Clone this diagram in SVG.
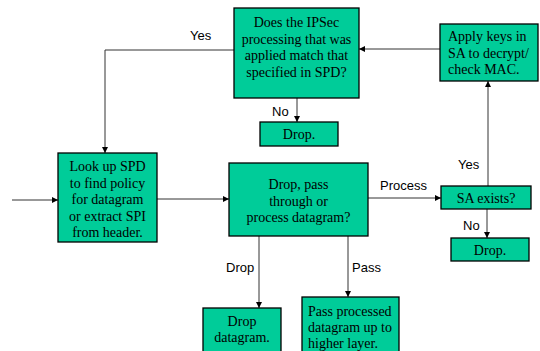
<svg xmlns="http://www.w3.org/2000/svg" width="540" height="351" viewBox="0 0 540 351">
<style>
.box{fill:#00CC99;stroke:#000;stroke-width:1.3}
.t{font-family:"Liberation Serif",serif;font-size:14px;fill:#000}
.c{text-anchor:middle}
.l{font-family:"Liberation Sans",sans-serif;font-size:13px;fill:#000}
.ln{fill:none;stroke:#333;stroke-width:1}
</style>
<defs>
<marker id="a" viewBox="0 0 8 8" refX="8" refY="4" markerWidth="6" markerHeight="6" orient="auto" markerUnits="userSpaceOnUse">
<path d="M0,0 L8,4 L0,8 z" fill="#000"/>
</marker>
</defs>
<rect width="540" height="351" fill="#fff"/>
<g id="connectors">
<path class="ln" d="M234,50 H105 V153" marker-end="url(#a)"/>
<path class="ln" d="M440,49 H359" marker-end="url(#a)"/>
<path class="ln" d="M297,98 V122" marker-end="url(#a)"/>
<path class="ln" d="M12,200 H58" marker-end="url(#a)"/>
<path class="ln" d="M157,199 H229" marker-end="url(#a)"/>
<path class="ln" d="M368,198 H441" marker-end="url(#a)"/>
<path class="ln" d="M488,186 V81" marker-end="url(#a)"/>
<path class="ln" d="M487,209 V238" marker-end="url(#a)"/>
<path class="ln" d="M259,236 V308" marker-end="url(#a)"/>
<path class="ln" d="M348,236 V297" marker-end="url(#a)"/>
<text class="l" x="190" y="40">Yes</text>
<text class="l" x="272" y="116">No</text>
<text class="l" x="380" y="190">Process</text>
<text class="l" x="458" y="169">Yes</text>
<text class="l" x="463" y="230">No</text>
<text class="l" x="226" y="272">Drop</text>
<text class="l" x="352" y="272">Pass</text>
</g>
<g id="ipsec-match">
<rect class="box" x="234" y="8" width="125" height="90"/>
<text class="t c" x="296.5" y="27">Does the IPSec</text>
<text class="t c" x="296.5" y="43.5">processing that was</text>
<text class="t c" x="296.5" y="60">applied match that</text>
<text class="t c" x="296.5" y="76.5">specified in SPD?</text>
</g>
<g id="apply-keys">
<rect class="box" x="440" y="24" width="98" height="57"/>
<text class="t" x="448" y="41">Apply keys in</text>
<text class="t" x="448" y="57.5">SA to decrypt/</text>
<text class="t" x="448" y="74">check MAC.</text>
</g>
<g id="drop-top">
<rect class="box" x="260" y="122" width="78" height="24"/>
<text class="t c" x="299" y="139">Drop.</text>
</g>
<g id="lookup-spd">
<rect class="box" x="58" y="153" width="99" height="89"/>
<text class="t c" x="107.5" y="171">Look up SPD</text>
<text class="t c" x="107.5" y="187.5">to find policy</text>
<text class="t c" x="107.5" y="204">for datagram</text>
<text class="t c" x="107.5" y="220.5">or extract SPI</text>
<text class="t c" x="107.5" y="237">from header.</text>
</g>
<g id="drop-pass-process">
<rect class="box" x="229" y="163" width="139" height="73"/>
<text class="t c" x="298.5" y="189">Drop, pass</text>
<text class="t c" x="298.5" y="205.5">through or</text>
<text class="t c" x="298.5" y="222">process datagram?</text>
</g>
<g id="sa-exists">
<rect class="box" x="441" y="186" width="90" height="23"/>
<text class="t c" x="486" y="203">SA exists?</text>
</g>
<g id="drop-right">
<rect class="box" x="451" y="238" width="78" height="23"/>
<text class="t c" x="490" y="255">Drop.</text>
</g>
<g id="drop-datagram">
<rect class="box" x="203" y="308" width="78" height="48"/>
<text class="t c" x="242" y="326">Drop</text>
<text class="t c" x="242" y="342">datagram.</text>
</g>
<g id="pass-up">
<rect class="box" x="302" y="297" width="97" height="59"/>
<text class="t" x="308" y="316">Pass processed</text>
<text class="t" x="308" y="332">datagram up to</text>
<text class="t" x="308" y="348">higher layer.</text>
</g>
</svg>
